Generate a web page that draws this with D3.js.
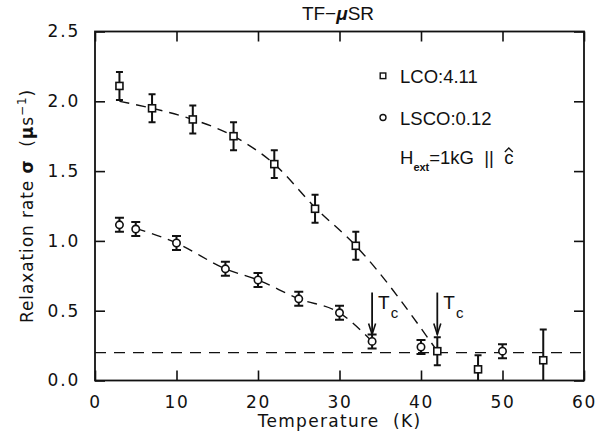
<!DOCTYPE html>
<html>
<head>
<meta charset="utf-8">
<script src="https://cdn.jsdelivr.net/npm/d3@7"></script>
<style>
  html, body { margin: 0; padding: 0; background: #fff; }
  svg { display: block; }
  text { white-space: pre; }
  .axis-font { font-family: "DejaVu Sans", sans-serif; font-size: 17px; letter-spacing: 1.8px; fill: #111; }
  .label-font { font-family: "Liberation Sans", Arial, sans-serif; fill: #111; }
</style>
</head>
<body>
<svg id="chart" width="609" height="438"></svg>
<script>
// Measured relaxation rates (TF-muSR) versus temperature
const lcoTemp  = [3, 7, 12, 17, 22, 27, 32, 42, 47, 55];
const lcoSigma = [2.11, 1.95, 1.87, 1.75, 1.55, 1.23, 0.965, 0.21, 0.08, 0.145];
const lcoErr   = [0.10, 0.10, 0.10, 0.10, 0.10, 0.10, 0.10, 0.10, 0.10, 0.22];

const lscoTemp  = [3, 5, 10, 16, 20, 25, 30, 34, 40, 50];
const lscoSigma = [1.115, 1.085, 0.985, 0.80, 0.72, 0.585, 0.485, 0.28, 0.24, 0.21];
const lscoErr   = [0.05, 0.05, 0.05, 0.05, 0.05, 0.05, 0.05, 0.05, 0.05, 0.05];

// Dashed guides to the eye
const lcoGuideTemp  = [3, 7, 12, 17, 22, 27, 32, 42];
const lcoGuide      = [2.0, 1.95, 1.87, 1.75, 1.55, 1.24, 0.965, 0.21];
const lscoGuideTemp = [5, 10, 16, 20, 25, 30, 34];
const lscoGuide     = [1.09, 0.985, 0.80, 0.72, 0.585, 0.485, 0.28];
const backgroundLevel = 0.2;

// Tc markers
const tcTemps = [34, 42];
const tcArrowTop = 0.63, tcArrowTip = 0.33;

const xTicks = [0, 10, 20, 30, 40, 50, 60];
const yTicks = [0.0, 0.5, 1.0, 1.5, 2.0, 2.5];

const svg = d3.select("#chart");
const margin = { left: 95, right: 25, top: 31.5, bottom: 57.5 };
const W = 609, H = 438;

const x = d3.scaleLinear().domain([0, 60]).range([margin.left, W - margin.right]);
const y = d3.scaleLinear().domain([0, 2.5]).range([H - margin.bottom, margin.top]);

svg.append("defs").append("clipPath").attr("id", "plotClip")
  .append("rect")
  .attr("x", x(0)).attr("y", y(2.5))
  .attr("width", x(60) - x(0)).attr("height", y(0) - y(2.5));

const ink = "#111";

// Axes with inward ticks on all four sides
const axisStyle = g => {
  g.select(".domain").remove();
  g.selectAll(".tick line").attr("stroke", ink).attr("stroke-width", 1.6);
};

svg.append("g")
  .attr("transform", `translate(0,${y(0)})`)
  .call(d3.axisBottom(x).tickValues(xTicks).tickFormat(d3.format("d"))
        .tickSizeInner(-10).tickSizeOuter(0).tickPadding(15))
  .call(axisStyle)
  .call(g => g.selectAll("text").attr("class", "axis-font").attr("fill", null));

svg.append("g")
  .attr("transform", `translate(0,${y(2.5)})`)
  .call(d3.axisTop(x).tickValues(xTicks).tickFormat("").tickSizeInner(-10).tickSizeOuter(0))
  .call(axisStyle);

svg.append("g")
  .attr("transform", `translate(${x(0)},0)`)
  .call(d3.axisLeft(y).tickValues(yTicks).tickFormat(d3.format(".1f"))
        .tickSizeInner(-10).tickSizeOuter(0).tickPadding(15))
  .call(axisStyle)
  .call(g => g.selectAll("text").attr("class", "axis-font").attr("fill", null));

svg.append("g")
  .attr("transform", `translate(${x(60)},0)`)
  .call(d3.axisRight(y).tickValues(yTicks).tickFormat("").tickSizeInner(-10).tickSizeOuter(0))
  .call(axisStyle);

// Frame
svg.append("rect")
  .attr("x", x(0)).attr("y", y(2.5))
  .attr("width", x(60) - x(0)).attr("height", y(0) - y(2.5))
  .attr("fill", "none").attr("stroke", ink).attr("stroke-width", 1.8);

const plot = svg.append("g").attr("clip-path", "url(#plotClip)");

// Background level
plot.append("line")
  .attr("x1", x(0)).attr("x2", x(60))
  .attr("y1", y(backgroundLevel)).attr("y2", y(backgroundLevel))
  .attr("stroke", ink).attr("stroke-width", 1.4).attr("stroke-dasharray", "11,8");

// Guide curves
const guideLine = d3.line().x(d => x(d[0])).y(d => y(d[1])).curve(d3.curveMonotoneX);
plot.append("path")
  .attr("d", guideLine(d3.zip(lcoGuideTemp, lcoGuide)))
  .attr("fill", "none").attr("stroke", ink).attr("stroke-width", 1.4)
  .attr("stroke-dasharray", "10,7");
plot.append("path")
  .attr("d", guideLine(d3.zip(lscoGuideTemp, lscoGuide)))
  .attr("fill", "none").attr("stroke", ink).attr("stroke-width", 1.4)
  .attr("stroke-dasharray", "10,7");

// Error bars
function errorBars(temps, vals, errs, capHalf) {
  const g = plot.append("g").attr("stroke", ink).attr("stroke-width", 2);
  temps.forEach((t, i) => {
    const top = y(vals[i] + errs[i]);
    const bot = y(Math.max(0, vals[i] - errs[i]));
    g.append("line").attr("x1", x(t)).attr("x2", x(t)).attr("y1", top).attr("y2", bot);
    g.append("line").attr("x1", x(t) - capHalf).attr("x2", x(t) + capHalf).attr("y1", top).attr("y2", top);
    if (vals[i] - errs[i] > 0)
      g.append("line").attr("x1", x(t) - capHalf).attr("x2", x(t) + capHalf).attr("y1", bot).attr("y2", bot);
  });
}
errorBars(lcoTemp, lcoSigma, lcoErr, 3.5);
errorBars(lscoTemp, lscoSigma, lscoErr, 4.5);

// Markers
const sq = 7;
plot.append("g").selectAll("rect").data(d3.zip(lcoTemp, lcoSigma)).join("rect")
  .attr("x", d => x(d[0]) - sq / 2).attr("y", d => y(d[1]) - sq / 2)
  .attr("width", sq).attr("height", sq)
  .attr("fill", "#fff").attr("stroke", ink).attr("stroke-width", 1.6);

plot.append("g").selectAll("circle").data(d3.zip(lscoTemp, lscoSigma)).join("circle")
  .attr("cx", d => x(d[0])).attr("cy", d => y(d[1])).attr("r", 3.7)
  .attr("fill", "#fff").attr("stroke", ink).attr("stroke-width", 1.6);

// Tc arrows and labels
tcTemps.forEach(t => {
  const xt = x(t), yTop = y(tcArrowTop), yTip = y(tcArrowTip);
  svg.append("line").attr("x1", xt).attr("x2", xt).attr("y1", yTop).attr("y2", yTip)
    .attr("stroke", ink).attr("stroke-width", 1.8);
  svg.append("path")
    .attr("d", `M${xt - 3.5},${yTip - 11} L${xt},${yTip} L${xt + 3.5},${yTip - 11}`)
    .attr("fill", "none").attr("stroke", ink).attr("stroke-width", 1.6);
  const lbl = svg.append("text").attr("class", "label-font")
    .attr("x", xt + 6).attr("y", y(0.51)).attr("font-size", 19);
  lbl.append("tspan").text("T");
  lbl.append("tspan").attr("dy", 9).attr("dx", 1).attr("font-size", 15).text("c");
});

// Legend
const legX = 383;
svg.append("rect").attr("x", legX - 2.8).attr("y", 73).attr("width", 5.6).attr("height", 5.6)
  .attr("fill", "#fff").attr("stroke", ink).attr("stroke-width", 1.4);
svg.append("text").attr("class", "label-font").attr("x", 400).attr("y", 83.3)
  .attr("font-size", 18.5).text("LCO:4.11");

svg.append("circle").attr("cx", legX).attr("cy", 117.5).attr("r", 3)
  .attr("fill", "#fff").attr("stroke", ink).attr("stroke-width", 1.4);
svg.append("text").attr("class", "label-font").attr("x", 400).attr("y", 125)
  .attr("font-size", 18.5).text("LSCO:0.12");

const hText = svg.append("text").attr("class", "label-font").attr("x", 400).attr("y", 164)
  .attr("font-size", 18.5);
hText.append("tspan").text("H");
hText.append("tspan").attr("dy", 7).attr("font-size", 11).attr("font-weight", "bold").text("ext");
hText.append("tspan").attr("dy", -7).text("=1kG  ||  ");
hText.append("tspan").text("c");
// hat over the unit vector c
const hNode = hText.node();
const cBox = hNode.getExtentOfChar(hNode.getNumberOfChars() - 1);
svg.append("path")
  .attr("d", `M${cBox.x + cBox.width / 2 - 4},${cBox.y + 5} L${cBox.x + cBox.width / 2},${cBox.y + 1} L${cBox.x + cBox.width / 2 + 4},${cBox.y + 5}`)
  .attr("fill", "none").attr("stroke", ink).attr("stroke-width", 1.3);

// Title
const title = svg.append("text").attr("class", "label-font")
  .attr("x", 338).attr("y", 19.5).attr("text-anchor", "middle").attr("font-size", 19);
title.append("tspan").text("TF\u2212");
title.append("tspan").attr("font-weight", "bold").attr("font-style", "italic").text("\u03bc");
title.append("tspan").text("SR");

// Axis titles
svg.append("text").attr("class", "axis-font")
  .attr("x", (x(0) + x(60)) / 2).attr("y", 426.5).attr("text-anchor", "middle")
  .style("letter-spacing", "1.3px")
  .text("Temperature  (K)");

const yl = svg.append("text").attr("class", "axis-font")
  .attr("transform", `translate(33,${(y(0) + y(2.5)) / 2}) rotate(-90)`)
  .attr("text-anchor", "middle")
  .style("letter-spacing", "0.9px");
yl.append("tspan").text("Relaxation rate ");
yl.append("tspan").attr("font-weight", "bold").text("\u03c3");
yl.append("tspan").text("  (");
yl.append("tspan").attr("font-weight", "bold").text("\u03bc");
yl.append("tspan").text("s");
yl.append("tspan").attr("dy", -7).attr("font-size", 12).text("\u22121");
yl.append("tspan").attr("dy", 7).text(")");
</script>
</body>
</html>
